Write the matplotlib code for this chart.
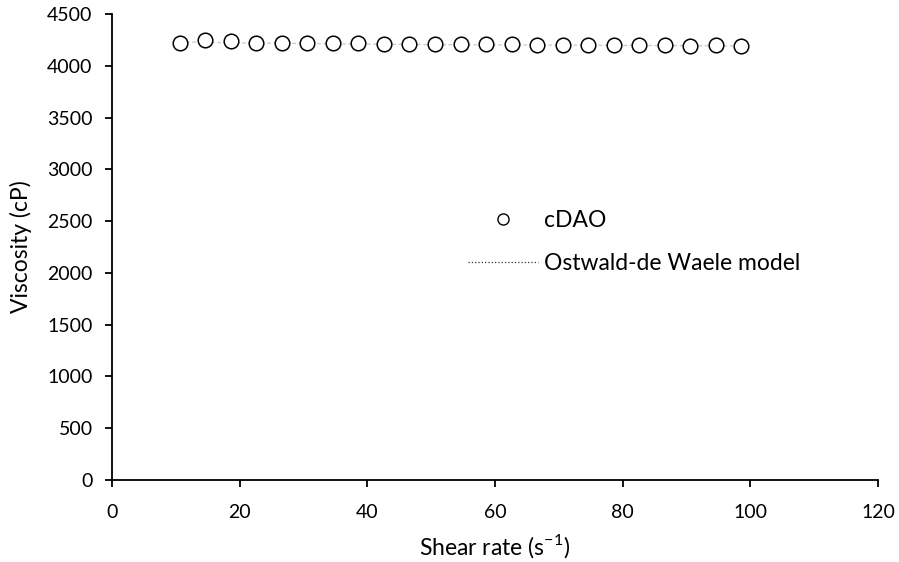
import numpy as np
import matplotlib
matplotlib.use('Agg')
import matplotlib.pyplot as plt
from matplotlib.lines import Line2D

plt.rcParams['font.family'] = ['Lato', 'DejaVu Sans']

# 剪切速率 (s^-1) 与测得粘度 (cP)
shear_rate = [10.6, 14.6, 18.6, 22.6, 26.6, 30.6, 34.6, 38.6, 42.6, 46.6, 50.6, 54.6,
              58.6, 62.6, 66.6, 70.6, 74.6, 78.6, 82.6, 86.6, 90.6, 94.6, 98.6]
viscosity = [4223, 4249, 4242, 4223, 4223, 4223, 4223, 4217, 4210, 4210, 4210, 4210,
             4210, 4210, 4203, 4198, 4203, 4203, 4198, 4198, 4191, 4198, 4191]

# Ostwald-de Waele 拟合曲线
model_rate = shear_rate
model_visc = [4232, 4227, 4223, 4220, 4217, 4215, 4213, 4211, 4209, 4207, 4206, 4204,
              4203, 4202, 4201, 4200, 4199, 4198, 4197, 4196, 4195, 4194, 4193]

fig = plt.figure(figsize=(8.99, 5.62), dpi=100)
ax = fig.add_axes([0.1246, 0.1459, 0.852, 0.829])

ax.plot(model_rate, model_visc, linestyle=(0, (3, 2)), color='#c8c8c8', linewidth=0.9,
        zorder=1)
ax.plot(shear_rate, viscosity, linestyle='none', marker='o', markersize=10.5,
        markerfacecolor='white', markeredgecolor='black', markeredgewidth=1.1, zorder=2)

ax.set_xlim(0, 120)
ax.set_ylim(0, 4500)
ax.set_xticks(np.arange(0, 121, 20))
ax.set_yticks(np.arange(0, 4501, 500))
for s in ['top', 'right']:
    ax.spines[s].set_visible(False)
for s in ['left', 'bottom']:
    ax.spines[s].set_linewidth(1.3)
ax.tick_params(direction='out', length=5, width=1.3, labelsize=14)
ax.tick_params(axis='x', pad=12)
ax.tick_params(axis='y', pad=9)

ax.set_xlabel('Shear rate (s$^{\\mathregular{-1}}$)', fontsize=16.5, labelpad=8)
ax.set_ylabel('Viscosity (cP)', fontsize=16.5, labelpad=11)

handles = [
    Line2D([], [], linestyle='none', marker='o', markersize=8, markerfacecolor='white',
           markeredgecolor='black', markeredgewidth=1.0),
    Line2D([], [], linestyle=':', color='#333333', linewidth=0.9),
]
fig.legend(handles, ['cDAO', 'Ostwald-de Waele model'], loc='center left',
           bbox_to_anchor=(0.508, 0.570), frameon=False, fontsize=16.5,
           handlelength=3.05, handletextpad=0.28, labelspacing=0.95, borderpad=0)

fig.savefig('out.png', dpi=100)
